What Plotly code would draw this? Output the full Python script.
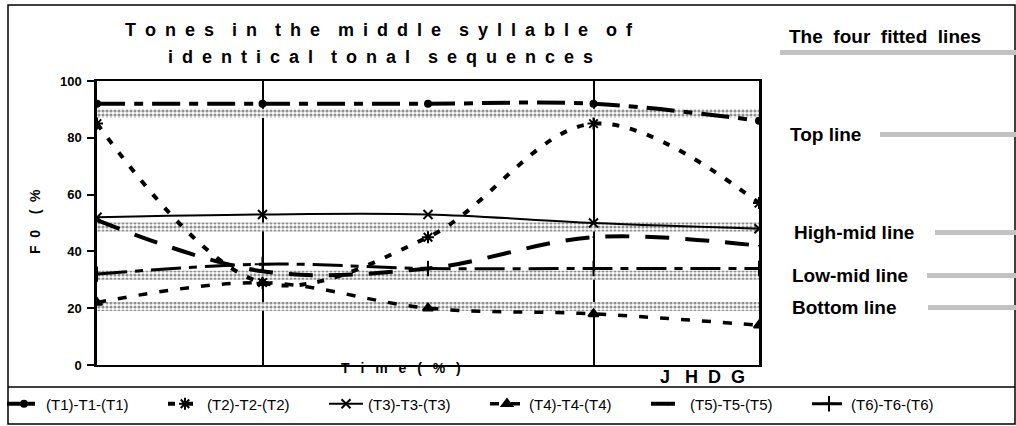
import plotly.graph_objects as go

W, H = 1016, 426

# data
time_pct = [0, 25, 50, 75, 100]
t1 = [92, 92, 92, 92, 86]
t2 = [85, 29, 45, 85, 57]
t3 = [52, 53, 53, 50, 48]
t4 = [22, 29, 20, 18, 14]
t5 = [51, 33, 34, 45, 42]
t6 = [32, 35.5, 34, 34, 34]

series_names = ['(T1)-T1-(T1)', '(T2)-T2-(T2)', '(T3)-T3-(T3)',
                '(T4)-T4-(T4)', '(T5)-T5-(T5)', '(T6)-T6-(T6)']

fitted_names = ['Top line', 'High-mid line', 'Low-mid line', 'Bottom line']
fitted_levels = [88.6, 48.6, 31.6, 20.6]

y_ticks = [0, 20, 40, 60, 80, 100]
grid_x = [25, 75]

FONT = 'Liberation Sans, Arial, sans-serif'
BAND = 1.6  # half thickness of the stippled fitted bands
EN = '\u2002'
NB = '\u00a0'


def px(x):
    return x / W


def py(y):
    return 1 - y / H


def spaced(text, sep=EN, gap=EN + EN):
    return gap.join(sep.join(w) for w in text.split(' '))


styles = [
    dict(width=4, dash='28px,9px,9px,9px', symbol='circle', size=6),
    dict(width=4, dash='7px,11px', symbol='asterisk-open', size=10),
    dict(width=2, dash='solid', symbol='x-thin-open', size=9),
    dict(width=3.5, dash='9px,12px', symbol='triangle-up', size=9),
    dict(width=4, dash='24px,16px', symbol='line-ns-open', size=1),
    dict(width=3, dash='30px,8px,8px,8px', symbol='cross-thin-open', size=11),
]

fig = go.Figure()

# fitted lines as stippled bands
for lvl in fitted_levels:
    fig.add_trace(go.Scatter(x=[time_pct[0], time_pct[-1]], y=[lvl - BAND, lvl - BAND],
                             mode='lines', line=dict(width=0), showlegend=False,
                             hoverinfo='skip'))
    fig.add_trace(go.Scatter(x=[time_pct[0], time_pct[-1]], y=[lvl + BAND, lvl + BAND],
                             mode='lines', line=dict(width=0), fill='tonexty',
                             fillcolor='rgba(0,0,0,0)',
                             fillpattern=dict(shape='.', fgcolor='#222222', bgcolor='white',
                                              size=4, solidity=0.5),
                             showlegend=False, hoverinfo='skip'))

for name, ys, st in zip(series_names, [t1, t2, t3, t4, t5, t6], styles):
    fig.add_trace(go.Scatter(
        x=time_pct, y=ys, name=name, mode='lines+markers',
        line=dict(color='black', width=st['width'], dash=st['dash'], shape='spline', smoothing=1),
        marker=dict(symbol=st['symbol'], size=st['size'], color='black',
                    line=dict(color='black', width=2)),
    ))

shapes = [
    # outer frame and legend divider
    dict(type='rect', xref='paper', yref='paper', x0=px(8), x1=px(1015), y0=py(424), y1=py(5),
         line=dict(color='black', width=1.5)),
    dict(type='line', xref='paper', yref='paper', x0=px(8), x1=px(1015), y0=py(387), y1=py(387),
         line=dict(color='black', width=1.5)),
]

annotations = [
    dict(text='<b>' + spaced('Tones in the middle syllable of') + '</b>', x=px(379), y=py(30),
         font=dict(size=18)),
    dict(text='<b>' + spaced('identical tonal sequences') + '</b>', x=px(380), y=py(57),
         font=dict(size=18)),
    dict(text='<b>' + spaced('F0 (%', NB + NB, NB * 4) + '</b>', x=px(35), y=py(222),
         textangle=-90, font=dict(size=14)),
    dict(text='<b>' + spaced('Time ( % )', EN + NB, EN + NB) + '</b>', x=px(401), y=py(368),
         font=dict(size=14)),
    dict(text='<b>J' + NB * 3 + 'H' + NB * 2 + 'D' + NB * 2 + 'G</b>', x=px(702), y=py(377),
         font=dict(size=18)),
    dict(text='<b>The' + NB * 2 + 'four' + NB * 2 + 'fitted' + NB * 2 + 'lines</b>',
         x=px(787), y=py(36), xanchor='left', font=dict(size=19)),
]

label_pos = [(788, 134, 880), (792, 232, 935), (790, 275, 927), (790, 307, 928)]
for name, (lx, ly, bx) in zip(fitted_names, label_pos):
    annotations.append(dict(text='<b>' + name + '</b>', x=px(lx), y=py(ly), xanchor='left',
                            font=dict(size=19)))
    shapes.append(dict(type='rect', xref='paper', yref='paper', x0=px(bx), x1=1,
                       y0=py(ly + 3), y1=py(ly - 2), fillcolor='#c2c2c2', line=dict(width=0)))
shapes.append(dict(type='rect', xref='paper', yref='paper', x0=px(780), x1=1,
                   y0=py(55), y1=py(50), fillcolor='#c2c2c2', line=dict(width=0)))

for a in annotations:
    a.setdefault('xanchor', 'center')
    a.update(xref='paper', yref='paper', showarrow=False, yanchor='middle')
    a['font'] = dict(family=FONT, color='black', **a['font'])

fig.update_layout(
    width=W, height=H,
    margin=dict(l=0, r=0, t=0, b=0, autoexpand=False),
    paper_bgcolor='white', plot_bgcolor='white',
    font=dict(family=FONT, color='black'),
    shapes=shapes, annotations=annotations,
    xaxis=dict(domain=[px(97), px(759)], range=[0, 100], tickvals=grid_x, showticklabels=False,
               ticks='', showgrid=True, gridcolor='black', gridwidth=2, zeroline=False,
               showline=True, linecolor='black', linewidth=2, mirror=True),
    yaxis=dict(domain=[py(365), py(81)], range=[0, 100], tickvals=y_ticks, showgrid=False,
               zeroline=False, showline=True, linecolor='black', linewidth=2.5, mirror=True,
               ticks='outside', ticklen=7, tickwidth=1.5, tickcolor='black',
               ticklabelstandoff=3,
               tickfont=dict(size=13, family=FONT, weight='bold')),
    legend=dict(orientation='h', x=px(2), y=py(404), xanchor='left', yanchor='middle',
                font=dict(size=15, family=FONT), itemwidth=34, entrywidth=112,
                traceorder='normal', bgcolor='rgba(0,0,0,0)'),
)

fig.write_html('out.html', config={'displayModeBar': False},
               post_script="document.body.style.margin='0';")
